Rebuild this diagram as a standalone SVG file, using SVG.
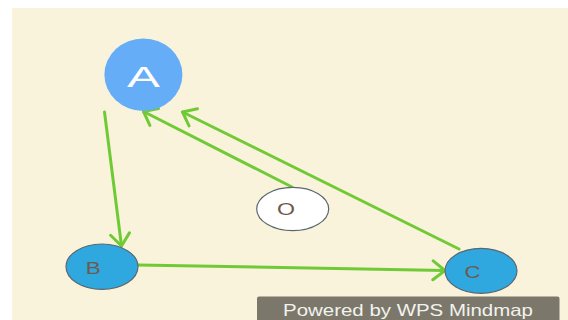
<svg xmlns="http://www.w3.org/2000/svg" width="568" height="320" viewBox="0 0 568 320">
<defs>
<style>
.edge{fill:none;stroke:#6fca35;stroke-width:3;stroke-linecap:round;marker-end:url(#arr)}
.lbl{font-family:"Liberation Sans",Arial,sans-serif;fill:#6e5a4b;font-size:17px;text-anchor:middle}
.node{stroke:#5b6770;stroke-width:1.2}
</style>
<marker id="arr" viewBox="-2 -12 17 24" markerWidth="17" markerHeight="24" refX="12" refY="0" orient="auto" markerUnits="userSpaceOnUse">
<path d="M0,-9.5 L12,0 L0,9.5" fill="none" stroke="#6fca35" stroke-width="3" stroke-linecap="round" stroke-linejoin="round"/>
</marker>
</defs>
<rect x="0" y="0" width="568" height="320" fill="#ffffff"/>
<rect x="12" y="8" width="556" height="312" fill="#faf3dc"/>
<g id="connectors">
<line class="edge" x1="104.5" y1="112" x2="121.5" y2="246"/>
<line class="edge" x1="138" y1="265" x2="445" y2="270.5"/>
<line class="edge" x1="292" y1="187" x2="143.5" y2="111.5"/>
<line class="edge" x1="459" y1="249" x2="182.5" y2="112"/>
</g>
<g id="node-A">
<ellipse cx="143.4" cy="74.7" rx="39" ry="36.3" fill="#65adf7"/>
<text x="143.4" y="86.5" font-family="Liberation Sans, Arial, sans-serif" font-size="29" fill="#ffffff" text-anchor="middle" textLength="33" lengthAdjust="spacingAndGlyphs">A</text>
</g>
<g id="node-B">
<ellipse class="node" cx="102" cy="266.7" rx="36" ry="22.7" fill="#2fa7df"/>
<text class="lbl" x="93.3" y="273.5" textLength="15" lengthAdjust="spacingAndGlyphs">B</text>
</g>
<g id="node-C">
<ellipse class="node" cx="481" cy="270.8" rx="36" ry="22.5" fill="#2fa7df"/>
<text class="lbl" x="472.5" y="277.5" textLength="16" lengthAdjust="spacingAndGlyphs">C</text>
</g>
<g id="node-O">
<ellipse class="node" cx="292.7" cy="209" rx="36" ry="21.7" fill="#ffffff" stroke="#7a7a7a"/>
<text class="lbl" x="286" y="214.5" textLength="18" lengthAdjust="spacingAndGlyphs">O</text>
</g>
<g id="footer">
<rect x="257" y="296.5" width="302.5" height="30" rx="2" fill="#7b786b"/>
<text x="408" y="315.5" font-family="Liberation Sans, Arial, sans-serif" font-size="16.5" fill="#f2f2ee" text-anchor="middle" textLength="250" lengthAdjust="spacingAndGlyphs">Powered by WPS Mindmap</text>
</g>
</svg>
